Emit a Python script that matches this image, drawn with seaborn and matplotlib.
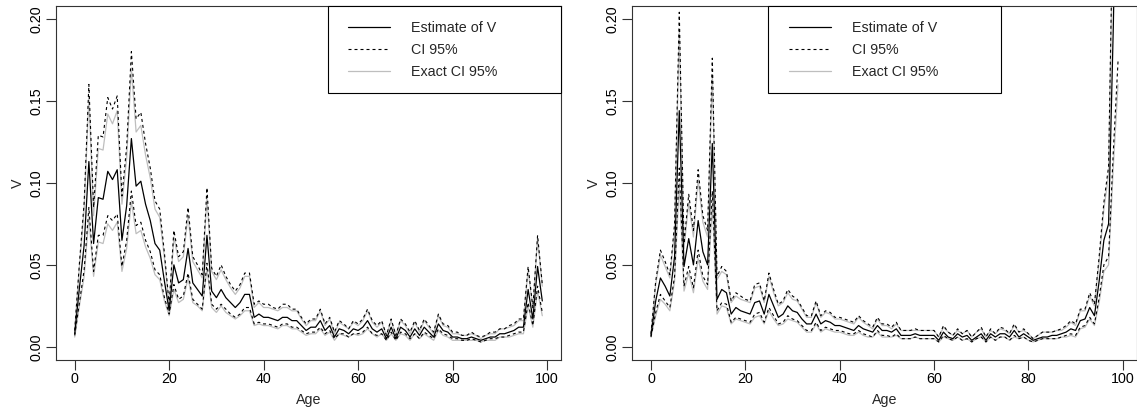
import numpy as np
import pandas as pd
import matplotlib
matplotlib.use("Agg")
import matplotlib.pyplot as plt
from matplotlib.patches import Rectangle
import seaborn as sns

ages = list(range(100))

# ---- left panel ----
left_est = [0.008,0.036,0.062,0.113,0.063,0.091,0.090,0.107,0.102,0.108,
            0.065,0.086,0.127,0.098,0.101,0.087,0.077,0.063,0.059,0.040,
            0.022,0.050,0.039,0.041,0.060,0.039,0.035,0.031,0.068,0.034,
            0.030,0.035,0.030,0.027,0.024,0.027,0.032,0.032,0.018,0.020,
            0.018,0.018,0.017,0.016,0.018,0.018,0.016,0.016,0.013,0.010,
            0.012,0.012,0.016,0.010,0.013,0.006,0.011,0.010,0.008,0.011,
            0.010,0.012,0.016,0.011,0.009,0.011,0.005,0.012,0.005,0.012,
            0.010,0.006,0.011,0.007,0.012,0.009,0.006,0.014,0.010,0.009,
            0.006,0.006,0.005,0.005,0.006,0.005,0.004,0.005,0.006,0.006,
            0.008,0.008,0.009,0.010,0.012,0.012,0.035,0.017,0.049,0.028]
left_up = [0.010,0.051,0.088,0.160,0.085,0.129,0.128,0.152,0.145,0.153,
           0.092,0.122,0.180,0.139,0.143,0.124,0.109,0.089,0.084,0.057,
           0.026,0.071,0.055,0.058,0.085,0.055,0.050,0.044,0.097,0.048,
           0.043,0.050,0.043,0.038,0.034,0.038,0.045,0.045,0.026,0.028,
           0.026,0.026,0.024,0.023,0.026,0.026,0.023,0.023,0.018,0.014,
           0.017,0.017,0.023,0.014,0.018,0.009,0.016,0.014,0.011,0.016,
           0.014,0.017,0.023,0.016,0.013,0.016,0.007,0.017,0.007,0.017,
           0.014,0.009,0.016,0.010,0.017,0.013,0.009,0.020,0.014,0.013,
           0.009,0.009,0.007,0.007,0.009,0.007,0.006,0.007,0.009,0.009,
           0.011,0.011,0.013,0.014,0.017,0.017,0.049,0.024,0.068,0.038]
left_lo = [0.007,0.027,0.047,0.085,0.046,0.068,0.068,0.080,0.077,0.081,
           0.049,0.065,0.095,0.074,0.076,0.065,0.058,0.047,0.044,0.030,
           0.020,0.038,0.029,0.031,0.045,0.029,0.026,0.023,0.051,0.026,
           0.023,0.026,0.023,0.020,0.018,0.020,0.024,0.024,0.014,0.015,
           0.014,0.014,0.013,0.012,0.014,0.014,0.012,0.012,0.010,0.008,
           0.009,0.009,0.012,0.008,0.010,0.005,0.008,0.008,0.006,0.008,
           0.008,0.009,0.012,0.008,0.007,0.008,0.004,0.009,0.004,0.009,
           0.008,0.005,0.008,0.005,0.009,0.007,0.005,0.011,0.008,0.007,
           0.005,0.005,0.004,0.004,0.005,0.004,0.003,0.004,0.005,0.005,
           0.006,0.006,0.007,0.008,0.009,0.009,0.027,0.013,0.037,0.021]
left_ex_up = [0.010,0.049,0.084,0.152,0.080,0.121,0.120,0.142,0.136,0.144,
              0.087,0.115,0.170,0.131,0.135,0.117,0.103,0.084,0.079,0.054,
              0.025,0.067,0.052,0.055,0.080,0.052,0.047,0.042,0.091,0.046,
              0.041,0.047,0.041,0.036,0.032,0.036,0.043,0.043,0.024,0.027,
              0.024,0.024,0.023,0.022,0.024,0.024,0.022,0.022,0.017,0.013,
              0.016,0.016,0.022,0.013,0.017,0.008,0.015,0.013,0.011,0.015,
              0.013,0.016,0.022,0.015,0.012,0.015,0.007,0.016,0.007,0.016,
              0.013,0.008,0.015,0.009,0.016,0.012,0.008,0.019,0.013,0.012,
              0.008,0.008,0.007,0.007,0.008,0.007,0.005,0.007,0.008,0.008,
              0.011,0.011,0.012,0.013,0.016,0.016,0.047,0.023,0.066,0.037]
left_ex_lo = [0.006,0.025,0.043,0.079,0.043,0.064,0.063,0.075,0.071,0.076,
              0.046,0.060,0.089,0.069,0.071,0.061,0.054,0.044,0.041,0.028,
              0.019,0.035,0.027,0.029,0.042,0.027,0.025,0.022,0.048,0.024,
              0.021,0.025,0.021,0.019,0.017,0.019,0.022,0.022,0.013,0.014,
              0.013,0.013,0.012,0.011,0.013,0.013,0.011,0.011,0.009,0.007,
              0.008,0.008,0.011,0.007,0.009,0.004,0.008,0.007,0.006,0.008,
              0.007,0.008,0.011,0.008,0.006,0.008,0.004,0.008,0.004,0.008,
              0.007,0.004,0.008,0.005,0.008,0.006,0.004,0.010,0.007,0.006,
              0.004,0.004,0.004,0.004,0.004,0.004,0.003,0.004,0.004,0.004,
              0.006,0.006,0.006,0.007,0.008,0.008,0.025,0.012,0.034,0.019]

# ---- right panel ----
right_est = [0.007,0.028,0.042,0.037,0.031,0.055,0.144,0.049,0.066,0.050,
             0.077,0.058,0.050,0.124,0.029,0.035,0.033,0.020,0.024,0.022,
             0.021,0.020,0.027,0.028,0.020,0.032,0.025,0.018,0.020,0.025,
             0.022,0.021,0.017,0.014,0.014,0.020,0.014,0.016,0.015,0.013,
             0.013,0.012,0.011,0.010,0.013,0.011,0.010,0.009,0.013,0.010,
             0.010,0.009,0.011,0.007,0.007,0.007,0.008,0.007,0.007,0.007,
             0.007,0.004,0.009,0.006,0.005,0.008,0.006,0.007,0.004,0.006,
             0.008,0.004,0.008,0.006,0.008,0.008,0.006,0.010,0.006,0.008,
             0.006,0.004,0.005,0.006,0.006,0.007,0.007,0.008,0.009,0.011,
             0.010,0.016,0.017,0.024,0.019,0.040,0.065,0.075,0.195,0.350]
right_up = [0.008,0.040,0.059,0.052,0.044,0.075,0.204,0.063,0.093,0.071,
            0.108,0.080,0.071,0.176,0.043,0.049,0.046,0.028,0.033,0.031,
            0.029,0.028,0.038,0.039,0.028,0.045,0.035,0.026,0.028,0.035,
            0.031,0.029,0.024,0.019,0.019,0.028,0.019,0.022,0.021,0.018,
            0.018,0.017,0.016,0.015,0.019,0.016,0.014,0.012,0.018,0.014,
            0.014,0.012,0.015,0.010,0.010,0.010,0.011,0.010,0.010,0.010,
            0.010,0.006,0.013,0.009,0.007,0.011,0.008,0.010,0.006,0.009,
            0.012,0.006,0.011,0.008,0.012,0.011,0.008,0.014,0.009,0.011,
            0.008,0.005,0.007,0.009,0.009,0.009,0.010,0.011,0.013,0.016,
            0.014,0.023,0.023,0.033,0.026,0.055,0.088,0.110,0.280,0.500]
right_lo = [0.006,0.021,0.032,0.028,0.024,0.043,0.109,0.037,0.049,0.036,
            0.059,0.043,0.038,0.095,0.022,0.027,0.026,0.015,0.018,0.017,
            0.016,0.015,0.020,0.021,0.015,0.024,0.019,0.014,0.015,0.019,
            0.017,0.016,0.013,0.010,0.010,0.015,0.010,0.012,0.011,0.010,
            0.010,0.009,0.008,0.008,0.010,0.008,0.007,0.006,0.010,0.007,
            0.007,0.006,0.008,0.005,0.005,0.005,0.006,0.005,0.005,0.005,
            0.005,0.003,0.007,0.005,0.004,0.006,0.004,0.005,0.003,0.005,
            0.006,0.003,0.006,0.004,0.006,0.006,0.004,0.007,0.005,0.006,
            0.004,0.003,0.004,0.005,0.005,0.005,0.005,0.006,0.007,0.008,
            0.007,0.012,0.013,0.018,0.014,0.030,0.050,0.055,0.119,0.174]
right_ex_up = [0.008,0.038,0.056,0.049,0.042,0.071,0.192,0.060,0.088,0.067,
               0.102,0.076,0.067,0.166,0.041,0.046,0.044,0.027,0.031,0.029,
               0.028,0.027,0.036,0.037,0.027,0.043,0.033,0.025,0.027,0.033,
               0.029,0.028,0.023,0.018,0.018,0.027,0.018,0.021,0.020,0.017,
               0.017,0.016,0.015,0.014,0.018,0.015,0.013,0.011,0.017,0.013,
               0.013,0.011,0.014,0.010,0.010,0.010,0.010,0.010,0.010,0.010,
               0.010,0.006,0.012,0.009,0.007,0.010,0.008,0.010,0.006,0.009,
               0.011,0.006,0.010,0.008,0.011,0.010,0.008,0.013,0.009,0.010,
               0.008,0.005,0.007,0.009,0.009,0.009,0.010,0.010,0.012,0.015,
               0.013,0.022,0.022,0.031,0.025,0.052,0.084,0.105,0.266,0.475]
right_ex_lo = [0.006,0.019,0.029,0.026,0.022,0.040,0.100,0.034,0.045,0.033,
               0.054,0.040,0.035,0.087,0.020,0.025,0.024,0.014,0.017,0.016,
               0.015,0.014,0.018,0.019,0.014,0.022,0.017,0.013,0.014,0.017,
               0.016,0.015,0.012,0.009,0.009,0.014,0.009,0.011,0.010,0.009,
               0.009,0.008,0.007,0.007,0.009,0.007,0.006,0.006,0.009,0.006,
               0.006,0.006,0.007,0.005,0.005,0.005,0.006,0.005,0.005,0.005,
               0.005,0.003,0.006,0.005,0.004,0.006,0.004,0.005,0.003,0.005,
               0.006,0.003,0.006,0.004,0.006,0.006,0.004,0.006,0.005,0.006,
               0.004,0.003,0.004,0.005,0.005,0.005,0.005,0.006,0.006,0.007,
               0.006,0.011,0.012,0.017,0.013,0.027,0.046,0.050,0.110,0.160]

legend_labels = ["Estimate of V", "CI 95%", "Exact CI 95%"]
x_ticks = [0, 20, 40, 60, 80, 100]
y_ticks = [0.00, 0.05, 0.10, 0.15, 0.20]

sns.set_style("ticks")
plt.rcParams["font.family"] = ["Liberation Sans", "DejaVu Sans"]

fig = plt.figure(figsize=(11.37, 4.12), dpi=100)
ax1 = fig.add_axes([56/1137, 1-360/412, 505/1137, 354.3/412])
ax2 = fig.add_axes([632.3/1137, 1-360/412, 504.4/1137, 354.3/412])

GRAY = "#BEBEBE"
DASH = (0, (2.7, 2.7))
FS = 10.3

panels = [
    (ax1, left_est, left_up, left_lo, left_ex_up, left_ex_lo, 0.5788, 0.5386, 0.4614),
    (ax2, right_est, right_up, right_lo, right_ex_up, right_ex_lo, 0.3113, 0.2696, 0.4608),
]

for ax, est, up, lo, xup, xlo, leg_x, box_x0, box_w in panels:
    df = pd.DataFrame({"Age": ages, "est": est, "up": up, "lo": lo,
                       "xup": xup, "xlo": xlo})
    sns.lineplot(data=df, x="Age", y="xup", ax=ax, color=GRAY, lw=0.9)
    sns.lineplot(data=df, x="Age", y="xlo", ax=ax, color=GRAY, lw=0.9)
    sns.lineplot(data=df, x="Age", y="up", ax=ax, color="black", lw=0.8, linestyle=DASH)
    sns.lineplot(data=df, x="Age", y="lo", ax=ax, color="black", lw=0.8, linestyle=DASH)
    sns.lineplot(data=df, x="Age", y="est", ax=ax, color="black", lw=0.9)
    lines = ax.get_lines()
    h_exact, h_ci, h_est = lines[0], lines[2], lines[4]

    ax.set_xlim(-3.96, 102.96)
    ax.set_ylim(-0.008, 0.208)
    ax.set_xticks(x_ticks)
    ax.set_xticklabels([str(t) for t in x_ticks], fontsize=FS)
    ax.set_yticks(y_ticks)
    ax.set_yticklabels([f"{t:.2f}" for t in y_ticks], fontsize=FS,
                       rotation=90, va="center")
    ax.tick_params(axis="both", direction="out", length=7, width=0.8,
                   color="#333333", labelcolor="black")
    ax.tick_params(axis="x", pad=1.5)
    ax.tick_params(axis="y", pad=2)
    for s in ax.spines.values():
        s.set_visible(True)
        s.set_linewidth(0.8)
        s.set_color("#333333")
    ax.set_xlabel("Age", fontsize=FS)
    ax.set_ylabel("V", fontsize=FS)
    ax.xaxis.set_label_coords(0.5, -0.094)
    ax.yaxis.set_label_coords(-0.062, 0.5)

    # legend box
    ax.add_patch(Rectangle((box_x0, 0.7527), box_w, 1.0 - 0.7527,
                           transform=ax.transAxes, facecolor="white",
                           edgecolor="black", lw=0.8, zorder=5, clip_on=False))
    leg = ax.legend([h_est, h_ci, h_exact], legend_labels, loc="upper left",
                    bbox_to_anchor=(leg_x, 0.958), frameon=False, borderpad=0,
                    handlelength=2.9, handletextpad=1.5, labelspacing=0.57,
                    fontsize=FS, borderaxespad=0)
    leg.set_zorder(6)

fig.savefig("out.png", dpi=100)
